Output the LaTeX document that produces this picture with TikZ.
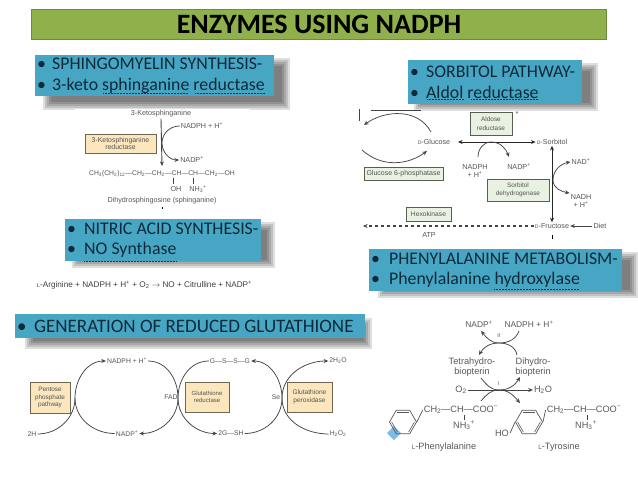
\documentclass[tikz,border=0pt]{standalone}
\usepackage{fontspec}
\setmainfont{Carlito}
\newfontfamily\lblfont{Liberation Sans}
\usetikzlibrary{arrows.meta, positioning, shapes.geometric, calc}
\definecolor{ttlfill}{HTML}{8FB04A}
\definecolor{ttlline}{HTML}{6F8A3A}
\definecolor{bluefill}{HTML}{46A6C4}
\definecolor{bluetext}{HTML}{0E2A3A}
\definecolor{enzfill}{HTML}{FBE6BE}
\definecolor{enzline}{HTML}{6E6650}
\definecolor{grnfill}{HTML}{E9F1E2}
\definecolor{grnline}{HTML}{55604E}
\definecolor{lbltext}{HTML}{555555}
\definecolor{curveclr}{HTML}{444444}
\definecolor{diamclr}{HTML}{7DBCE6}
\newcommand{\itm}[2][18pt]{\makebox[#1][l]{\hspace*{2pt}\textbullet}#2}
\newcommand{\lsc}[1]{\scalebox{.7}{#1}}
\newcommand{\sub}[1]{\textsubscript{#1}}
\newcommand{\super}[1]{\textsuperscript{#1}}
\tikzset{
  ttl/.style    = {draw=ttlline, line width=1pt, fill=ttlfill, minimum width=575pt,
                   minimum height=30pt, inner sep=0pt,
                   font=\fontsize{28}{30}\selectfont\bfseries, text=black},
  bluebox/.style= {fill=bluefill, anchor=north west, inner sep=0pt, align=flush left, text=bluetext,
                   font=\fontsize{17.8}{20.5}\selectfont},
  shade/.style  = {fill=black, opacity=.13},
  squig/.style  = {draw=bluetext!70!red, line width=.5pt, densely dotted},
  enz/.style    = {draw=enzline, line width=.6pt, fill=enzfill, align=center, inner sep=0pt,
                   text=lbltext, font=\lblfont\fontsize{6.4}{7.6}\selectfont},
  enzg/.style   = {enz, draw=grnline, fill=grnfill, font=\lblfont\fontsize{6.4}{8.5}\selectfont},
  lbl/.style    = {inner sep=1pt, align=center, text=lbltext, font=\lblfont\fontsize{7.2}{8.5}\selectfont},
  lblg/.style   = {lbl, font=\lblfont\fontsize{6.8}{8}\selectfont},
  lblb/.style   = {lbl, text=black!65, font=\lblfont\fontsize{9.2}{10.5}\selectfont},
  sig/.style    = {-{Stealth[length=4.6pt,width=4pt]}, draw=curveclr, line width=.75pt},
  dsig/.style   = {{Stealth[length=4.6pt,width=4pt]}-{Stealth[length=4.6pt,width=4pt]}, draw=black!85, line width=.9pt},
  arc/.style    = {draw=curveclr, line width=.75pt},
  ring/.style   = {regular polygon, regular polygon sides=6, minimum size=27pt, inner sep=0pt,
                   draw=black!65, line width=.7pt},
}
\begin{document}
\begin{tikzpicture}[x=1pt,y=-1pt]
\useasboundingbox (0,0) rectangle (638,479);
\fill[white] (0,0) rectangle (638,479);

% shadows
\foreach \xa/\ya/\xb/\yb in {43/58/290/110, 72/222/275/268, 414/63/598/111, 378/252/638/298, 25/318/372/349}
  \foreach \g in {0,2,...,8}
    \fill[shade] (\xa+\g,\ya+\g) rectangle (\xb-\g,\yb-\g);
\fill[white] (75,109) rectangle (250,116);

% title
\node[ttl] (title) at (319,24.5) {ENZYMES USING NADPH};

% blue headings
\node[bluebox, text width=239pt, minimum height=41pt] (sphbox) at (35,55)
  {\itm[17pt]{SPHINGOMYELIN SYNTHESIS-}\\\itm[17pt]{3-keto sphinganine reductase}};
\node[bluebox, text width=196pt, minimum height=42pt] (nobox) at (65,219)
  {\itm[19pt]{NITRIC ACID SYNTHESIS-}\\\itm[19pt]{NO Synthase}};
\node[bluebox, text width=174pt, minimum height=44pt] (sorbox) at (408,60)
  {\itm{SORBITOL PATHWAY-}\\\itm{Aldol reductase}};
\node[bluebox, text width=253pt, minimum height=42pt] (phebox) at (369,249)
  {\itm[20pt]{PHENYLALANINE METABOLISM-}\\\itm[20pt]{Phenylalanine hydroxylase}};
\node[bluebox, text width=350pt, minimum height=24pt, font=\fontsize{19}{21}\selectfont] (glubox) at (15,314)
  {\itm[19pt]{GENERATION OF REDUCED GLUTATHIONE}};

\draw[squig] (103,93) -- (188,93) (195,93) -- (265,93);
\draw[squig] (84,261) -- (176,261);
\draw[squig] (427,99) -- (464,99) (471,99) -- (538,99);
\draw[squig] (494,289) -- (579,289);

% =========================================================================
% sphingomyelin
% =========================================================================
\node[lbl] (keto) at (161,114) {3-Ketosphinganine};
\node[enz, minimum width=71pt, minimum height=19pt, font=\lblfont\fontsize{6.9}{7.8}\selectfont] (ketoenz) at (120.5,143.5) {3-Ketosphinganine\\reductase};
\node[lbl] (nadpha) at (202,126) {NADPH + H\super{+}};
\node[lbl] (nadpa) at (192,160) {NADP\super{+}};
\coordinate (ketoend) at (162,166);
\coordinate (ketomid) at (162,143);
\node[lbl, font=\lblfont\fontsize{6.8}{8.5}\selectfont] (chain) at (162,174) {CH\sub{3}(CH\sub{2})\sub{12}—CH\sub{2}—CH\sub{2}—CH—CH—CH\sub{2}—OH};
\node[lbl] (oh) at (176,189) {OH};
\node[lbl] (nh) at (198,189) {NH\sub{3}\super{+}};
\node[lbl] (dihyd) at (162,201) {Dihydrosphingosine (sphinganine)};
\draw[sig, line width=.9pt] (keto.south) -- (ketoend);
\draw[sig] (nadpha.west) to[out=180,in=90] (ketomid) to[out=-90,in=180] (nadpa.west);
\draw[arc] (173.5,178) -- (173.5,184) (193,178) -- (193,184);
\draw[black, line width=.8pt] (162,207) -- (162,209);

% nitric acid
\node[lbl, text=black!75, font=\lblfont\fontsize{8.2}{9}\selectfont] (argeq) at (144.5,285)
  {\lsc{L}-Arginine + NADPH + H\super{+} + O\sub{2} $\rightarrow$ NO + Citrulline + NADP\super{+}};

% =========================================================================
% sorbitol
% =========================================================================
\draw[arc, line width=.9pt] (371,110) -- (421,110);
\draw[arc, line width=.9pt] (359,109) -- (359,121);
\node[lbl] (gluc) at (434,142) {\lsc{D}-Glucose};
\node[lbl] (sorb) at (552,142) {\lsc{D}-Sorbitol};
\node[enzg, minimum width=42pt, minimum height=23pt] (aldenz) at (491,123.5) {Aldose\\reductase};
\node[lbl] (star) at (517,114) {*};
\node[enzg, minimum width=79pt, minimum height=13pt, font=\lblfont\fontsize{7}{8}\selectfont] (g6p) at (403.5,173.5) {Glucose 6-phosphatase};
\node[enzg, minimum width=62pt, minimum height=22pt] (sdh) at (518,190) {Sorbitol\\dehydrogenase};
\node[enzg, minimum width=45pt, minimum height=14pt, font=\lblfont\fontsize{6.7}{8}\selectfont] (hexo) at (428.5,214) {Hexokinase};
\node[lbl] (nadphb) at (475,171) {NADPH\\+ H\super{+}};
\node[lbl] (nadpb) at (519,167) {NADP\super{+}};
\node[lbl] (nadc) at (581,162) {NAD\super{+}};
\node[lbl] (nadhc) at (581,201) {NADH\\+ H\super{+}};
\node[lbl] (fruc) at (552,226) {\lsc{D}-Fructose};
\node[lbl] (diet) at (600,226) {Diet};
\node[lbl] (atp) at (429,235) {ATP};
\coordinate (gla) at (364,125);
\coordinate (glb) at (362,150);
\coordinate (glc) at (427,151);
\coordinate (gld) at (431,132);
\coordinate (fruend) at (363,226);
\coordinate (sorl) at (458,142);
\coordinate (arcb) at (491,142);
\coordinate (arcc) at (553,180);
\draw[dsig] (sorl) -- (sorb.west);
\draw[sig] (gld) .. controls (418,108) and (385,110) .. (gla);
\draw[sig] (glb) .. controls (382,168) and (408,165) .. (glc);
\draw[sig] (478,157) to[out=90,in=180] (arcb) to[out=0,in=110] (509,157);
\draw[dsig] (sorb.south) -- (fruc.north);
\draw[sig] (arcc) to[out=90,in=190] (nadc.west);
\draw[sig] (arcc) to[out=-90,in=170] (nadhc.north west);
\draw[sig, dashed, line width=1.1pt] (fruc.west) -- (fruend);
\draw[sig, line width=.9pt] (diet.west) -- (fruc.east);
\draw[black, line width=.8pt] (552,235) -- (552,239);

% =========================================================================
% glutathione
% =========================================================================
\node[enz, minimum width=40pt, minimum height=31pt] (pent) at (50,397.5) {Pentose\\phosphate\\pathway};
\node[enz, minimum width=44pt, minimum height=30pt, font=\lblfont\fontsize{6}{7.4}\selectfont] (grd) at (207,397) {Glutathione\\reductase};
\node[enz, minimum width=45pt, minimum height=30pt, font=\lblfont\fontsize{6.6}{7.6}\selectfont] (gpx) at (309.5,397) {Glutathione\\peroxidase};
\node[lblg] (twoh) at (32,434) {2H};
\node[lblg] (nadphg) at (127,361) {NADPH + H\super{+}};
\node[lblg] (nadpg) at (127,433.5) {NADP\super{+}};
\node[lblg] (gssg) at (230,361) {G—S—S—G};
\node[lblg] (gsh) at (231,433.5) {2G—SH};
\node[lblg] (htwoo) at (338,361) {2H\sub{2}O};
\node[lblg] (htwoot) at (338,434) {H\sub{2}O\sub{2}};
\node[lblg] (fad) at (171,397) {FAD};
\node[lblg] (se) at (276,397) {Se};
\coordinate (xa) at (75,398);
\coordinate (xb) at (178,398);
\coordinate (xc) at (282,398);
\draw[sig] (twoh.east) to[out=0,in=-90] (xa) to[out=90,in=180] (nadphg.west);
\draw[arc] (xa) to[out=-90,in=180] (nadpg.west);
\draw[sig] (nadphg.east) to[out=0,in=90] (xb) to[out=-90,in=180] (gsh.west);
\draw[sig] (gssg.west) to[out=180,in=90] (xb) to[out=-90,in=0] (nadpg.east);
\draw[sig] (gsh.east) to[out=0,in=-90] (xc) to[out=90,in=0] (gssg.east);
\draw[sig] (htwoot.west) to[out=180,in=-90] (xc) to[out=90,in=180] (htwoo.west);

% =========================================================================
% phenylalanine
% =========================================================================
\node[lblb, font=\lblfont\fontsize{8.4}{10}\selectfont] (nadpp) at (479,324) {NADP\super{+}};
\node[lblb, font=\lblfont\fontsize{8.4}{10}\selectfont] (nadphp) at (529,324) {NADPH + H\super{+}};
\node[lblb, font=\lblfont\fontsize{5.5}{6}\selectfont] (ii) at (499,336) {II};
\node[lblb] (tetra) at (472,367) {Tetrahydro-\\biopterin};
\node[lblb] (dihy) at (533,367) {Dihydro-\\biopterin};
\node[lblb, font=\lblfont\fontsize{5.5}{6}\selectfont] (one) at (499,384) {I};
\node[lblb] (otwo) at (461,390) {O\sub{2}};
\node[lblb] (hoo) at (543,390) {H\sub{2}O};
\node[lblb] (phec) at (461,410) {CH\sub{2}—CH—COO\super{−}};
\node[lblb] (nhp) at (464,425) {NH\sub{3}\super{+}};
\node[lblb] (tyrc) at (584,410) {CH\sub{2}—CH—COO\super{−}};
\node[lblb] (nht) at (586,425) {NH\sub{3}\super{+}};
\node[lblb] (ho) at (502,433) {HO};
\node[lblb] (lphe) at (444,447) {\lsc{L}-Phenylalanine};
\node[lblb] (ltyr) at (559,447) {\lsc{L}-Tyrosine};
\draw[sig] (517,355) to[out=100,in=0] (499,343) to[out=180,in=60] (479,355);
\draw[sig] (519,331) to[out=-110,in=0] (499,343) to[out=180,in=-50] (481,331);
\draw[sig] (otwo.east) -- (hoo.west);
\draw[sig] (481,378) to[out=-50,in=180] (499,390) to[out=0,in=-120] (520,377);
\draw[sig] (481,401) to[out=50,in=180] (499,390) to[out=0,in=130] (520,403);
\draw[arc] (464,415) -- (464,420) (587,415) -- (587,420);

\fill[diamclr] (394,426) -- (401,433) -- (394,440) -- (387,433) -- cycle;
\node[ring] (phering) at (403,422) {};
\node[ring] (tyrring) at (529,422) {};
\foreach \r in {phering, tyrring} {
  \foreach \a/\b in {1/2, 3/4, 5/6}
    \draw[black!65, line width=.6pt] ($(\r.corner \a)!.18!(\r.center)$) -- ($(\r.corner \b)!.18!(\r.center)$);
}
\draw[arc, black!65] (phering.corner 6) -- (phec.west);
\draw[arc, black!65] (tyrring.corner 6) -- (tyrc.west);
\draw[arc, black!65] (tyrring.corner 3) -- (ho.east);
\end{tikzpicture}
\end{document}
